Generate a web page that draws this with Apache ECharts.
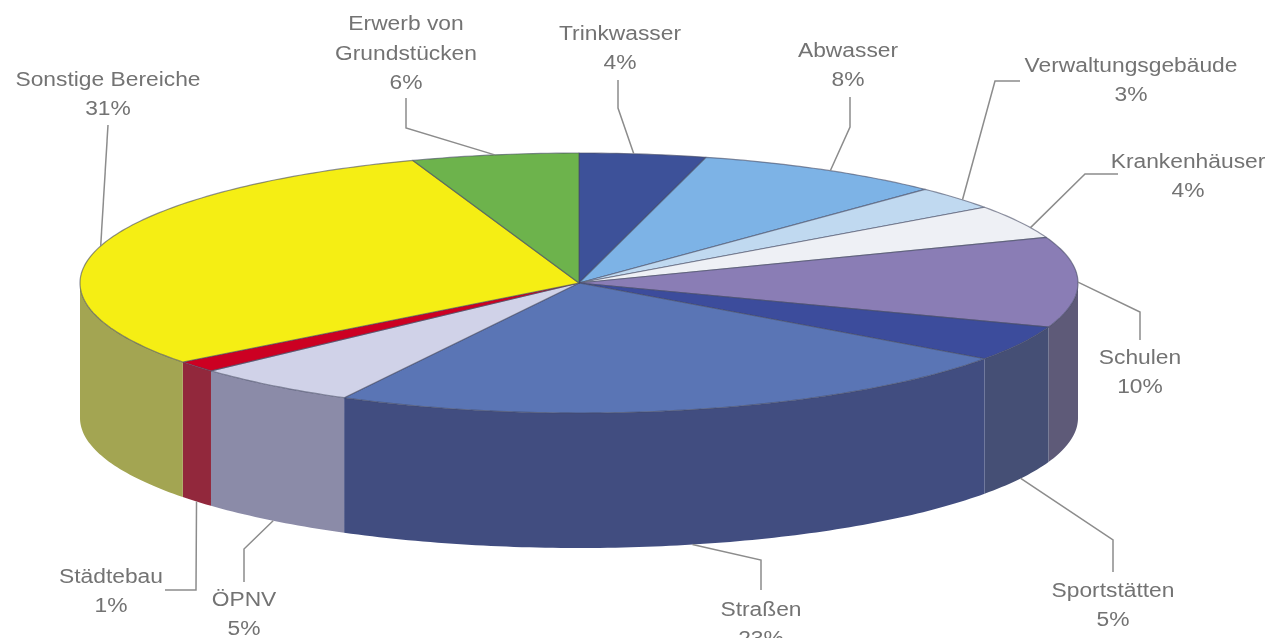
<!DOCTYPE html>
<html>
<head>
<meta charset="utf-8">
<title>Investitionen</title>
<script src="https://cdn.jsdelivr.net/npm/echarts@6/dist/echarts.min.js"></script>
<style>
    html, body { margin: 0; padding: 0; background: #fff; overflow: hidden; }
    /* the reference is a soft scan, take the hard edge off */
    #main { width: 1267px; height: 638px; filter: blur(0.6px); }
</style>
</head>
<body>
<div id="main"></div>
<script>
// DATA ---------------------------------------------------------------------
var categories = ['Trinkwasser', 'Abwasser', 'Verwaltungsgebäude', 'Krankenhäuser', 'Schulen', 'Sportstätten',
    'Straßen', 'ÖPNV', 'Städtebau', 'Sonstige Bereiche', 'Erwerb von\nGrundstücken'];
// share of the circle, the printed labels are rounded
var shares = [4.1, 8.1, 2.9, 4.2, 11.2, 4.4, 22.9, 5.4, 1.4, 30, 5.4];
var percentLabels = ['4%', '8%', '3%', '4%', '10%', '5%', '23%', '5%', '1%', '31%', '6%'];

var topColors = ['#3d5199', '#7db3e6', '#c0d9f0', '#eef0f5', '#8a7db5', '#3c4c9c',
    '#5a75b5', '#d0d2e8', '#cc0022', '#f5ee14', '#6db34c'];
var sideColors = ['#3d5199', '#7db3e6', '#c0d9f0', '#eef0f5', '#5e5a78', '#454f75',
    '#414d80', '#8b8ba8', '#92283c', '#a3a552', '#6db34c'];

// LAYOUT -------------------------------------------------------------------
var cx = 579, cy = 283, rx = 499, ry = 130, depth = 135;

// label centre, leader points running from the label towards the slice,
// tipShift moves the leader tip along the rim (same unit as shares)
var labelPlaces = [
    { x: 620, y: 49, leader: [[618, 80], [618, 108]], tipShift: -0.3 },
    { x: 848, y: 66, leader: [[850, 97], [850, 127]], tipShift: 0.25 },
    { x: 1131, y: 81, leader: [[1020, 81], [995, 81]], tipShift: 0.3 },
    { x: 1188, y: 177, leader: [[1118, 174], [1085, 174]], tipShift: 0.8 },
    { x: 1140, y: 373, leader: [[1140, 340], [1140, 312]], tipShift: 0 },
    { x: 1113, y: 606, leader: [[1113, 572], [1113, 540]], tipShift: 0 },
    { x: 761, y: 625, leader: [[761, 590], [761, 560]], tipShift: 0 },
    { x: 244, y: 615, leader: [[244, 582], [244, 549]], tipShift: 0 },
    { x: 111, y: 592, leader: [[165, 590], [196, 590]], tipShift: 0 },
    { x: 108, y: 95, leader: [[108, 125]], tipShift: 0 },
    { x: 406, y: 54, leader: [[406, 98], [406, 128]], tipShift: 0 }
];

// start and end of each slice on the circle, 0..100 running clockwise from the top
var total = shares.reduce(function (a, b) { return a + b; }, 0);
var running = 0;
var sliceData = shares.map(function (s) {
    var start = running;
    running += s;
    return [start, running];
});

function rim(p, drop) {
    var t = p / total * 2 * Math.PI;
    return [cx + rx * Math.sin(t), cy - ry * Math.cos(t) + (drop || 0)];
}

function arc(from, to, drop) {
    var pts = [];
    var steps = Math.max(2, Math.ceil((to - from) * 4));
    for (var i = 0; i <= steps; i++) {
        pts.push(rim(from + (to - from) * i / steps, drop));
    }
    return pts;
}

function renderSlice(params, api) {
    var i = params.dataIndex;
    var start = api.value(0), end = api.value(1);
    var children = [];
    var edge = { stroke: 'rgba(70,75,100,0.6)', lineWidth: 1.2, lineJoin: 'round' };

    // side wall, only the front half of the disc can be seen
    var from = Math.max(start, total / 4), to = Math.min(end, total * 3 / 4);
    if (to > from) {
        children.push({
            type: 'polygon',
            z2: 1,
            shape: { points: arc(from, to, 0).concat(arc(from, to, depth).reverse()) },
            style: { fill: sideColors[i] }
        });
    }

    // top face
    children.push({
        type: 'polygon',
        z2: 2,
        shape: { points: [[cx, cy]].concat(arc(start, end, 0)) },
        style: Object.assign({ fill: topColors[i] }, edge)
    });

    // leader line ends on the middle of the slice, on the lower rim for the front half
    var mid = (start + end) / 2;
    var isFront = mid > total / 4 && mid < total * 3 / 4;
    var place = labelPlaces[i];
    children.push({
        type: 'polyline',
        z2: 3,
        shape: { points: place.leader.concat([rim(mid + place.tipShift, isFront ? depth : 0)]) },
        style: { fill: null, stroke: '#8c8c8c', lineWidth: 1.5 }
    });

    // the lettering in the reference is stretched sideways
    children.push({
        type: 'text',
        z2: 4,
        x: place.x,
        y: place.y,
        scaleX: 1.14,
        style: {
            x: 0,
            y: 0,
            text: categories[i] + '\n' + percentLabels[i],
            fill: '#737373',
            font: '20px "Liberation Sans", Arial, sans-serif',
            lineHeight: 29.5,
            align: 'center',
            verticalAlign: 'middle'
        }
    });

    return { type: 'group', children: children };
}

// CHART --------------------------------------------------------------------
var chart = echarts.init(document.getElementById('main'), null, { renderer: 'canvas' });
chart.setOption({
    animation: false,
    backgroundColor: '#ffffff',
    series: [{
        type: 'custom',
        coordinateSystem: 'none',
        silent: true,
        renderItem: renderSlice,
        data: sliceData
    }]
});
</script>
</body>
</html>
